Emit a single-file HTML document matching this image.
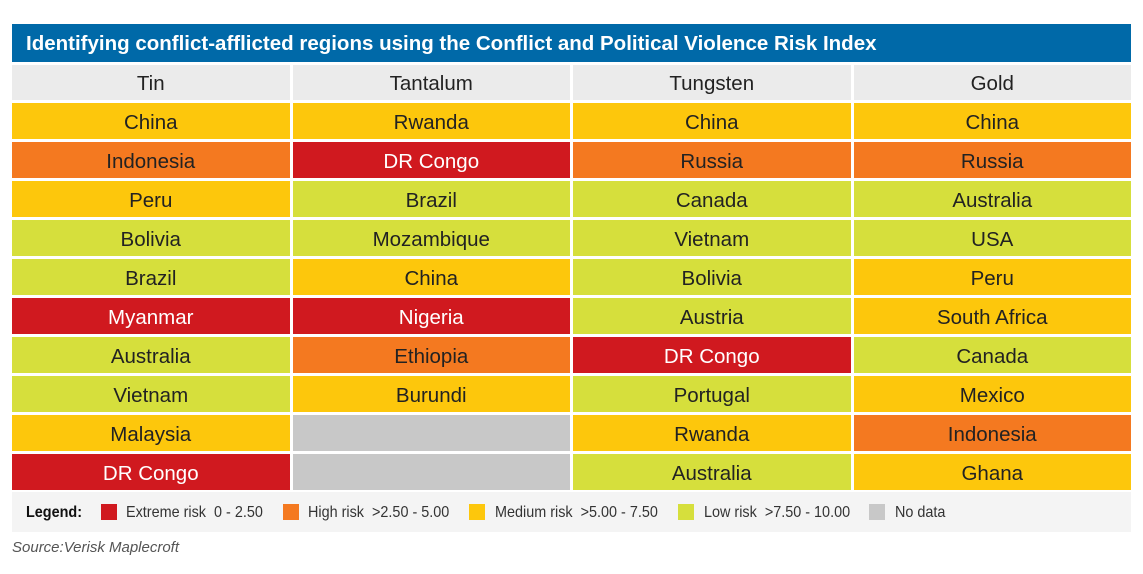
<!DOCTYPE html>
<html><head><meta charset="utf-8"><style>
body{margin:0;width:1143px;height:574px;background:#fff;position:relative;overflow:hidden;font-family:"Liberation Sans",sans-serif}
.c{position:absolute;display:flex;align-items:center;justify-content:center;font-size:20.5px;color:#222;padding-top:3px;box-sizing:border-box}
#title{position:absolute;left:12px;top:24px;width:1119px;height:38px;background:#0069a8;color:#fff;font-weight:bold;font-size:20.5px;line-height:40px;padding-left:14px;box-sizing:border-box;white-space:nowrap}
#legend{position:absolute;left:12px;top:492px;width:1119px;height:40px;background:#f4f4f4;font-size:16px;color:#333}
.li{position:absolute;top:12px;height:18px;line-height:18px;white-space:nowrap;transform:scaleX(0.9);transform-origin:left}
.sw{position:absolute;top:12px;width:16px;height:16px}
#source{position:absolute;left:12px;top:539px;font-size:15px;font-style:italic;color:#555}
</style></head><body>
<div id="title">Identifying conflict-afflicted regions using the Conflict and Political Violence Risk Index</div>
<div id="grid"></div>
<div id="legend">
<div class="li" style="left:14px;font-weight:bold;color:#111">Legend:</div>
<div class="sw" style="left:89px;background:#d0191f"></div>
<div class="li" style="left:114px">Extreme risk&nbsp; 0 - 2.50</div>
<div class="sw" style="left:271px;background:#f47920"></div>
<div class="li" style="left:296px">High risk&nbsp; &gt;2.50 - 5.00</div>
<div class="sw" style="left:457px;background:#fdc70c"></div>
<div class="li" style="left:483px">Medium risk&nbsp; &gt;5.00 - 7.50</div>
<div class="sw" style="left:666px;background:#d6df3c"></div>
<div class="li" style="left:692px">Low risk&nbsp; &gt;7.50 - 10.00</div>
<div class="sw" style="left:857px;background:#c8c8c8"></div>
<div class="li" style="left:883px">No data</div>
</div>
<div id="source">Source:Verisk Maplecroft</div>
<script>
const minerals=["Tin","Tantalum","Tungsten","Gold"];
const tinCountries=["China","Indonesia","Peru","Bolivia","Brazil","Myanmar","Australia","Vietnam","Malaysia","DR Congo"];
const tinRisk=["M","H","M","L","L","E","L","L","M","E"];
const tantalumCountries=["Rwanda","DR Congo","Brazil","Mozambique","China","Nigeria","Ethiopia","Burundi","",""];
const tantalumRisk=["M","E","L","L","M","E","H","M","N","N"];
const tungstenCountries=["China","Russia","Canada","Vietnam","Bolivia","Austria","DR Congo","Portugal","Rwanda","Australia"];
const tungstenRisk=["M","H","L","L","L","L","E","L","M","L"];
const goldCountries=["China","Russia","Australia","USA","Peru","South Africa","Canada","Mexico","Indonesia","Ghana"];
const goldRisk=["M","H","L","L","M","M","L","M","H","M"];
const cols=[[tinCountries,tinRisk],[tantalumCountries,tantalumRisk],[tungstenCountries,tungstenRisk],[goldCountries,goldRisk]];
const colorMap={E:"#d0191f",H:"#f47920",M:"#fdc70c",L:"#d6df3c",N:"#c8c8c8"};
const g=document.getElementById('grid');
const x0=12,cw=277.5,gap=3;
function colX(i){return x0+i*(cw+gap);}
function rowY(r){return 103+r*39;}
minerals.forEach((m,i)=>{
  const d=document.createElement('div');d.className='c';
  
  
  d.style.cssText=`left:${colX(i)}px;top:65px;width:${cw}px;height:35px;background:#ebebeb`;
  d.textContent=m;g.appendChild(d);
  const [names,risks]=cols[i];
  names.forEach((n,r)=>{
    const c=document.createElement('div');c.className='c';
    
    
    const k=risks[r];
    c.style.cssText=`left:${colX(i)}px;top:${rowY(r)}px;width:${cw}px;height:36px;background:${colorMap[k]};color:${k==='E'?'#fff':'#222'}`;
    c.textContent=n;g.appendChild(c);
  });
});
</script>
</body></html>
